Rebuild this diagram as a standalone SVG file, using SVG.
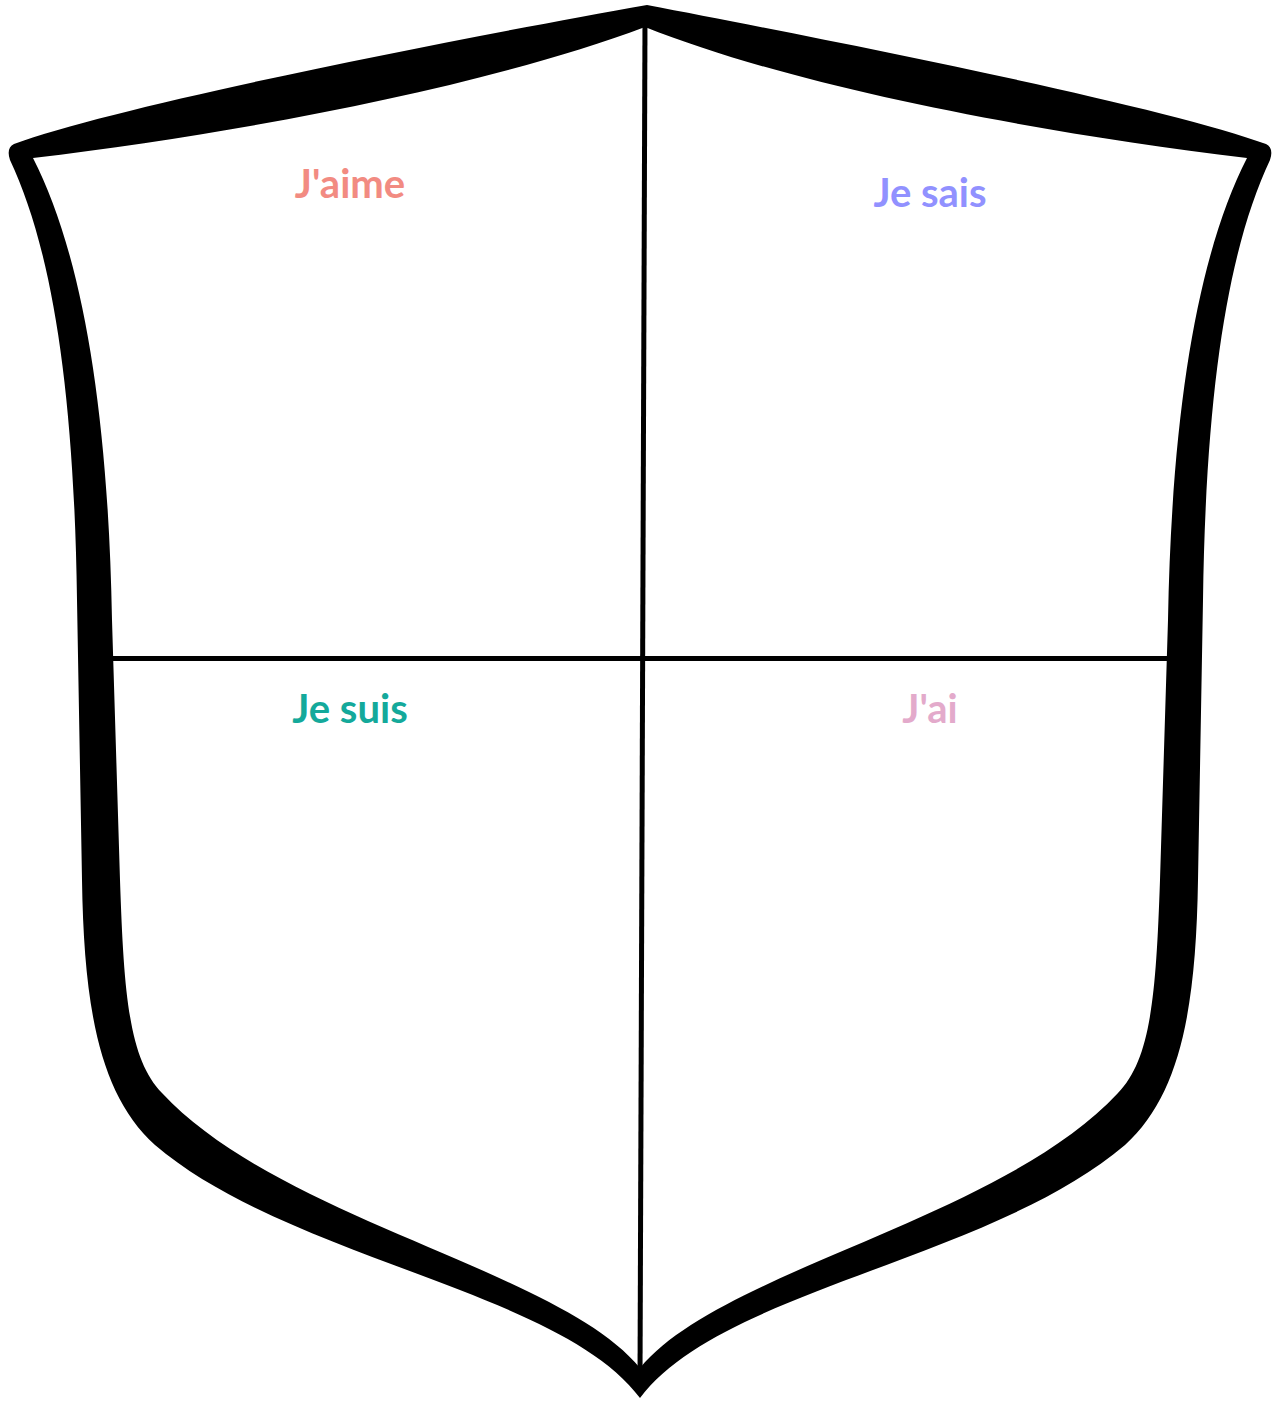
<svg xmlns="http://www.w3.org/2000/svg" width="1276" height="1401" viewBox="0 0 1276 1401">
  <style>
    .lbl { font-family: Lato, "Open Sans", "Liberation Sans", sans-serif; font-weight: 700; font-size: 40px; text-anchor: middle; }
    .div { stroke: #000; stroke-width: 5; fill: none; }
  </style>
  <rect width="1276" height="1401" fill="#fff"/>
  <g id="dividers">
    <line class="div" x1="645" y1="20" x2="640" y2="1380"/>
    <line class="div" x1="100" y1="658.5" x2="1180" y2="658.5"/>
  </g>
  <g id="shield">
    <path fill="#000" fill-rule="evenodd" d="
      M 647 5
      C 830 40 1160 105 1266 144
      Q 1274 148 1270 160
      C 1230 245 1206 380 1203 600
      L 1198 880
      C 1196 1010 1180 1095 1125 1145
      C 990 1260 720 1290 640 1398
      C 560 1290 290 1260 155 1145
      C 100 1095 84 1010 82 880
      L 77 600
      C 74 380 50 245 10 160
      Q 6 148 14 144
      C 120 105 450 40 647 5 Z
      M 645 27
      C 790 85 1030 132 1247 158
      C 1200 250 1172 400 1168 620
      L 1160 880
      C 1156 1000 1150 1060 1118 1093
      C 1000 1220 720 1270 640 1368
      C 560 1270 280 1220 162 1093
      C 130 1060 124 1000 120 880
      L 112 620
      C 108 400 80 250 33 158
      C 250 132 490 85 645 27 Z"/>
  </g>
  <g id="label-jaime"><text class="lbl" x="350" y="198" fill="#F28B82">J'aime</text></g>
  <g id="label-jesais"><text class="lbl" x="930" y="207" fill="#9191FF">Je sais</text></g>
  <g id="label-jesuis"><text class="lbl" x="350" y="723" fill="#14A99B">Je suis</text></g>
  <g id="label-jai"><text class="lbl" x="930" y="723" fill="#E3AACB">J'ai</text></g>
</svg>
